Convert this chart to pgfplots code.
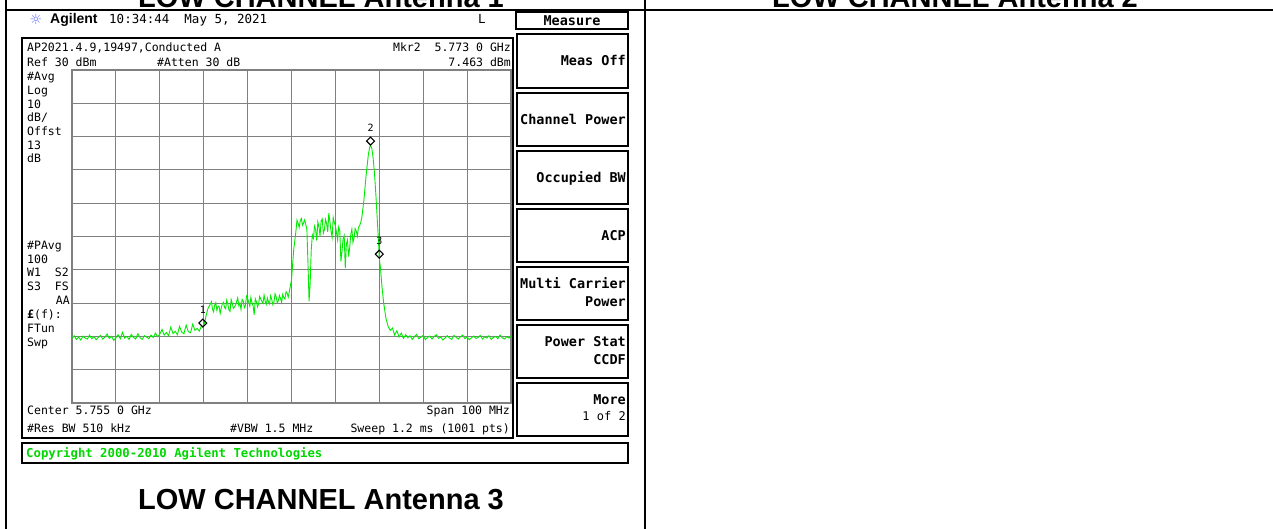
\documentclass[border=0pt]{standalone}
\usepackage{pgfplots}
\pgfplotsset{compat=1.18}
\usepackage{fontspec}
\setmainfont{Liberation Sans}
\newfontfamily\mono{DejaVu Sans Mono}
\newfontfamily\djv{DejaVu Sans}
\definecolor{trace}{RGB}{0,235,0}
\definecolor{cpy}{RGB}{0,215,0}
\definecolor{gridc}{RGB}{128,128,128}
\definecolor{sun}{RGB}{110,120,255}
\begin{document}
\begin{tikzpicture}[x=1pt,y=1pt]
\useasboundingbox (0,0) rectangle (1273,529);
\fill[white] (0,0) rectangle (1273,529);
\begin{scope}[yshift=529pt,y=-1pt,
  lbl/.style={font=\mono\fontsize{11.5}{12}\selectfont,inner sep=0pt,text height=8.4pt,text depth=0pt},
  key/.style={font=\mono\bfseries\fontsize{13.5}{14}\selectfont,inner sep=0pt,text height=9.9pt,text depth=0pt,anchor=east},
  keyn/.style={font=\mono\fontsize{12}{12}\selectfont,inner sep=0pt,text height=8.8pt,text depth=0pt,anchor=east}]
\clip (0,0) rectangle (1273,529);
% table headers (cut at top)
\node[font=\bfseries\fontsize{29}{29}\selectfont,anchor=base,inner sep=0pt] at (321,8) {LOW CHANNEL Antenna 1};
\node[font=\bfseries\fontsize{29}{29}\selectfont,anchor=base,inner sep=0pt] at (955,8) {LOW CHANNEL Antenna 2};
\draw[line width=2pt] (6,0) -- (6,529);
\draw[line width=2pt] (645,0) -- (645,529);
\draw[line width=2pt] (6,10) -- (1273,10);
\node[font=\bfseries\fontsize{29}{29}\selectfont,anchor=base,inner sep=0pt] at (321,510) {LOW CHANNEL Antenna 3};
% top bar
\node[font=\djv\fontsize{14}{14}\selectfont,text=sun,inner sep=0pt] at (36,19) {☼};
\node[font=\bfseries\fontsize{14}{14}\selectfont,anchor=west,inner sep=0pt,text height=10pt,text depth=0pt] at (50,19) {Agilent};
\node[lbl,anchor=west,font=\mono\fontsize{12.5}{13}\selectfont,text height=9.1pt] at (109,19) {10:34:44 \ May 5, 2021};
\node[lbl,anchor=west,font=\mono\fontsize{12.5}{13}\selectfont,text height=9.1pt] at (478,19) {L};
% main frame
\draw[line width=1.3pt] (22,38) rectangle (513,438);
\node[lbl,anchor=west] at (27,47) {AP2021.4.9,19497,Conducted A};
\node[lbl,anchor=east] at (511,47) {Mkr2 \ 5.773 0 GHz};
\node[lbl,anchor=west] at (27,62) {Ref 30 dBm};
\node[lbl,anchor=west] at (157,62) {\#Atten 30 dB};
\node[lbl,anchor=east] at (511,62) {7.463 dBm};
\node[lbl,anchor=west] at (27,76) {\#Avg};
\node[lbl,anchor=west] at (27,90) {Log};
\node[lbl,anchor=west] at (27,104) {10};
\node[lbl,anchor=west] at (27,117) {dB/};
\node[lbl,anchor=west] at (27,131) {Offst};
\node[lbl,anchor=west] at (27,145) {13};
\node[lbl,anchor=west] at (27,158) {dB};
\node[lbl,anchor=west] at (27,245) {\#PAvg};
\node[lbl,anchor=west] at (27,259) {100};
\node[lbl,anchor=west] at (27,272) {W1 \ S2};
\node[lbl,anchor=west] at (27,286) {S3 \ FS};
\node[lbl,anchor=east] at (70,300) {AA};
\node[lbl,anchor=west] at (27,314) {\textbf{£}(f):};
\node[lbl,anchor=west] at (27,328) {FTun};
\node[lbl,anchor=west] at (27,342) {Swp};
\node[lbl,anchor=west] at (27,410) {Center 5.755 0 GHz};
\node[lbl,anchor=east] at (510,410) {Span 100 MHz};
\node[lbl,anchor=west] at (27,428) {\#Res BW 510 kHz};
\node[lbl,anchor=west] at (230,428) {\#VBW 1.5 MHz};
\node[lbl,anchor=east] at (510,428) {Sweep 1.2 ms (1001 pts)};
% softkeys
\draw[line width=1.8pt] (516,12) rectangle (628,29);
\node[key,anchor=center] at (572,20.5) {Measure};
\draw[line width=1.8pt] (517,34) rectangle (628,88);
\node[key] at (626,61) {Meas Off};
\draw[line width=1.8pt] (517,93) rectangle (628,146);
\node[key] at (626,120) {Channel Power};
\draw[line width=1.8pt] (517,151) rectangle (628,204);
\node[key] at (626,178) {Occupied BW};
\draw[line width=1.8pt] (517,209) rectangle (628,262);
\node[key] at (626,236) {ACP};
\draw[line width=1.8pt] (517,267) rectangle (628,320);
\node[key] at (626,284) {Multi Carrier};
\node[key] at (626,302) {Power};
\draw[line width=1.8pt] (517,325) rectangle (628,378);
\node[key] at (626,342) {Power Stat};
\node[key] at (626,360) {CCDF};
\draw[line width=1.8pt] (517,383) rectangle (628,436);
\node[key] at (626,400) {More};
\node[keyn] at (626,416) {1 of 2};
% copyright
\draw[line width=1.5pt] (22,443) rectangle (628,463);
\node[font=\mono\bfseries\fontsize{12.3}{13}\selectfont,text=cpy,anchor=west,inner sep=0pt,text height=9pt,text depth=0pt] at (26,453) {Copyright 2000-2010 Agilent Technologies};
\end{scope}
\begin{axis}[at={(72pt,126pt)},anchor=south west,scale only axis,width=439pt,height=333pt,
  xmin=5705,xmax=5805,ymin=-70,ymax=30,
  xtick={5705,5715,5725,5735,5745,5755,5765,5775,5785,5795,5805},
  ytick={-70,-60,-50,-40,-30,-20,-10,0,10,20,30},
  xticklabels={},yticklabels={},major tick length=0pt,
  grid=major,major grid style={gridc,line width=1.1pt},
  axis line style={gridc,line width=1.2pt}]
\addplot[trace,line width=0.9pt] coordinates {
(5705,-50.6) (5705.5,-49.8) (5706,-50.9) (5706.5,-50.2) (5707,-51.1) (5707.5,-49.9)
(5708,-50.5) (5708.5,-50.8) (5709,-49.6) (5709.5,-50.7) (5710,-50.1) (5710.5,-51.0)
(5711,-50.3) (5711.5,-49.7) (5712,-50.8) (5712.5,-50.2) (5713,-49.3) (5713.5,-50.6)
(5714,-50.0) (5714.5,-51.2) (5715,-50.4) (5715.5,-49.5) (5716,-50.7) (5716.5,-48.8)
(5717,-50.5) (5717.5,-50.0) (5718,-50.9) (5718.5,-49.4) (5719,-50.3) (5719.5,-50.8)
(5720,-49.2) (5720.5,-50.4) (5721,-50.9) (5721.5,-49.8) (5722,-50.2) (5722.5,-50.7)
(5723,-49.6) (5723.5,-50.3) (5724,-49.0) (5724.5,-50.1)
(5725,-49.4) (5725.5,-47.9) (5726,-49.6) (5726.5,-48.8) (5727,-49.8) (5727.5,-47.2)
(5728,-49.1) (5728.5,-48.5) (5729,-49.5) (5729.5,-47.0) (5730,-48.7) (5730.5,-49.2)
(5731,-46.6) (5731.5,-48.6) (5732,-48.9) (5732.5,-46.3) (5733,-48.2) (5733.5,-47.6)
(5734,-48.4) (5734.5,-46.8) (5734.8,-47.2) (5735.2,-45.9) (5735.5,-44.0) (5736,-41.5)
(5736.5,-40.3) (5736.75,-39.6) (5737,-41.8) (5737.25,-42.6) (5737.5,-40.6) (5737.75,-39.9)
(5738,-42.2) (5738.25,-41.0) (5738.5,-40.9) (5738.75,-43.1) (5739,-41.5) (5739.25,-40.2)
(5739.5,-39.8) (5739.75,-41.3) (5740,-41.7) (5740.25,-39.1) (5740.5,-40.4) (5740.75,-42.0)
(5741,-42.5) (5741.25,-38.9) (5741.5,-40.0) (5741.75,-41.6) (5742,-41.2) (5742.25,-40.6)
(5742.5,-39.5) (5742.75,-38.4) (5743,-40.8) (5743.25,-40.0) (5743.5,-41.9) (5743.75,-38.9)
(5744,-39.3) (5744.25,-41.4) (5744.5,-40.7) (5744.75,-37.9) (5745,-38.6) (5745.25,-39.7)
(5745.5,-40.9) (5745.75,-38.3) (5746,-39.9) (5746.25,-40.8) (5746.5,-43.5) (5746.75,-38.7)
(5747,-39.6) (5747.25,-41.1) (5747.5,-40.3) (5747.75,-38.0) (5748,-38.8) (5748.25,-39.5)
(5748.5,-40.1) (5748.75,-37.6) (5749,-39.4) (5749.25,-40.4) (5749.5,-38.5) (5749.75,-39.6)
(5750,-40.2) (5750.25,-37.8) (5750.5,-38.9) (5750.75,-40.5) (5751,-39.7) (5751.25,-37.2)
(5751.5,-38.1) (5751.75,-39.9) (5752,-39.3) (5752.25,-37.7) (5752.5,-38.6) (5752.75,-39.8)
(5753,-37.4) (5753.25,-38.4) (5753.5,-38.8) (5753.75,-36.6) (5754,-37.0) (5754.25,-38.2)
(5754.5,-36.5)
(5755,-33) (5755.5,-24) (5756,-18.5) (5756.25,-15.1) (5756.5,-16.0) (5756.75,-17.3)
(5757,-15.2) (5757.25,-14.6) (5757.5,-16.6) (5757.75,-15.9) (5758,-15.0) (5758.25,-16.4)
(5758.5,-17.8) (5758.75,-28) (5759,-39.5) (5759.25,-34) (5759.5,-24) (5759.75,-19.5)
(5760,-20.5) (5760.25,-16.9) (5760.5,-18.0) (5760.75,-21.2) (5761,-15.6) (5761.25,-17.1)
(5761.5,-19.8) (5761.75,-15.3) (5762,-14.7) (5762.25,-19.0) (5762.5,-17.9) (5762.75,-14.9)
(5763,-16.1) (5763.25,-18.6) (5763.5,-13.0) (5763.75,-15.5) (5764,-18.4) (5764.25,-20.3)
(5764.5,-14.3) (5764.75,-15.8) (5765,-16.9) (5765.25,-18.8) (5765.5,-21.0) (5765.75,-17.1)
(5766,-18.2) (5766.25,-27.5) (5766.5,-24.5) (5766.75,-20.6) (5767,-19.7) (5767.25,-29.5)
(5767.5,-22.3) (5767.75,-21.1) (5768,-26.0) (5768.25,-23.4) (5768.5,-19.4) (5768.75,-17.8)
(5769,-21.8) (5769.25,-20.5) (5769.5,-17.6) (5769.75,-18.4) (5770,-19.9) (5770.25,-17.3)
(5770.5,-16.8) (5770.75,-15.9) (5771,-14.5)
(5771.5,-9) (5772,-1.5) (5772.5,4.5) (5772.8,6.8) (5773,7.46)
(5773.3,6.4) (5773.6,3.5) (5773.9,-1) (5774.2,-7) (5774.5,-14) (5774.8,-21)
(5775,-26.5) (5775.3,-30) (5775.6,-35) (5776,-40) (5776.5,-44.5) (5777,-47.0)
(5777.5,-48.2) (5778,-47.5) (5778.5,-49.6) (5779,-48.3) (5779.5,-50.2) (5780,-49.0)
(5780.5,-50.6) (5781,-49.5) (5781.5,-50.4) (5782,-49.8) (5782.5,-50.9) (5783,-50.1)
(5783.5,-49.4) (5784,-50.7) (5784.5,-50.2) (5785,-49.7) (5785.5,-51.0) (5786,-50.3)
(5786.5,-49.9) (5787,-50.8) (5787.5,-50.0) (5788,-49.5) (5788.5,-50.6) (5789,-50.2)
(5789.5,-51.1) (5790,-50.4) (5790.5,-49.8) (5791,-50.5) (5791.5,-50.9) (5792,-49.7)
(5792.5,-50.3) (5793,-50.8) (5793.5,-50.1) (5794,-49.6) (5794.5,-50.7) (5795,-50.2)
(5795.5,-51.0) (5796,-50.4) (5796.5,-49.9) (5797,-50.6) (5797.5,-50.3) (5798,-49.7)
(5798.5,-50.8) (5799,-50.1) (5799.5,-50.5) (5800,-49.8) (5800.5,-50.9) (5801,-50.3)
(5801.5,-50.0) (5802,-50.7) (5802.5,-49.6) (5803,-50.4) (5803.5,-50.8) (5804,-50.1)
(5804.5,-50.5) (5805,-49.9)
};
\addplot[only marks,black,mark=square,mark size=2.8pt,
  mark options={yshift=4pt,rotate=45,line width=1.1pt},
  point meta=explicit symbolic,nodes near coords,
  every node near coord/.append style={font=\mono\fontsize{10}{10}\selectfont,anchor=south,yshift=9pt,inner sep=0pt}]
  coordinates {(5734.8,-47.2) [1] (5773.0,7.463) [2] (5775.0,-26.5) [3]};
\end{axis}
\end{tikzpicture}
\end{document}
